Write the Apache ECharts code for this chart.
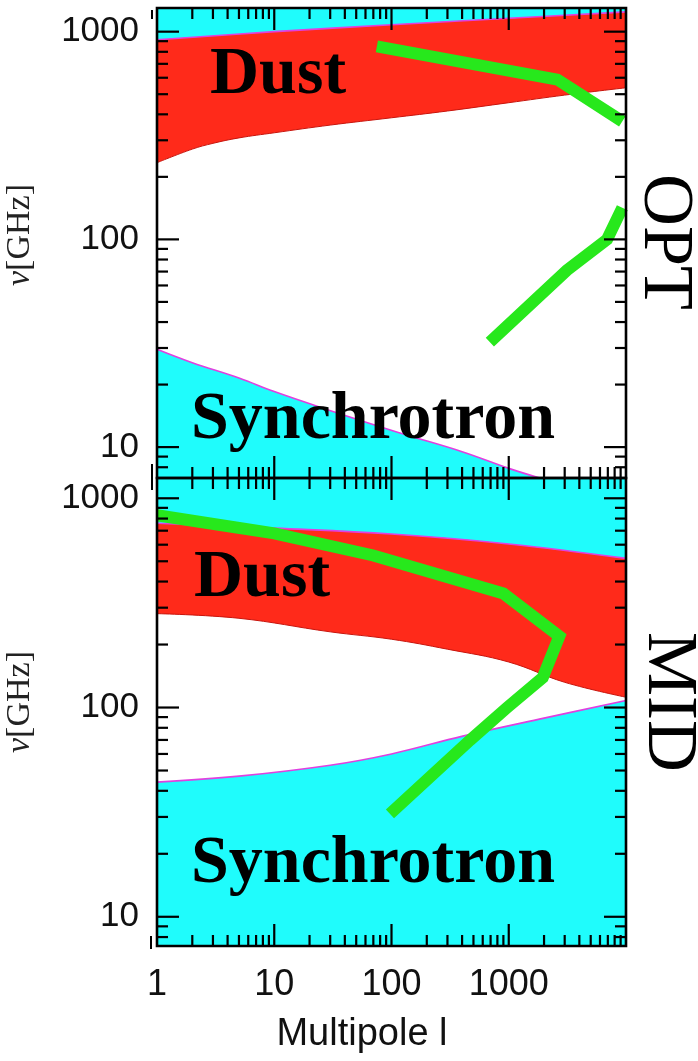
<!DOCTYPE html>
<html>
<head>
<meta charset="utf-8">
<script src="https://cdn.jsdelivr.net/npm/echarts@6/dist/echarts.min.js"></script>
<style>html,body{margin:0;padding:0;background:#fff}#c{width:698px;height:1061px}</style>
</head>
<body>
<div id="c"></div>
<script>
// ---- tick labels ----
const xMajorTicks = [1, 10, 100, 1000, 10000];
const xLabelTicks = [1, 10, 100, 1000];
const yMajorTicks = [10, 100, 1000];
const minorMantissa = [2, 3, 4, 5, 6, 7, 8, 9];

// ---- OPT panel (top) ----
const optDustUpper = [[1, 915], [10, 1000], [100, 1080], [1000, 1160], [10000, 1245]];
const optDustLower = [[1, 234], [2, 272], [3, 290], [5, 308], [10, 326], [30, 355], [100, 385], [300, 415], [1000, 455], [3000, 495], [10000, 537]];
const optSynch = [[1, 29.6], [2, 25.5], [5, 21.5], [10, 18.5], [26, 15.4], [118, 11.7], [400, 9.5], [1000, 7.9], [1840, 7.1]];
const optGreenHigh = [[75, 850], [2600, 588], [9300, 370]];
const optGreenLow = [[690, 32], [3130, 71], [6900, 100], [9300, 142]];

// ---- MID panel (bottom) ----
const midDustUpper = [[1, 760], [10, 720], [100, 675], [1000, 605], [10000, 516]];
const midDustLower = [[1, 281], [5, 267], [30, 230], [100, 212], [300, 190], [1000, 165], [3000, 132], [10000, 112]];
const midSynch = [[1, 44], [5, 47], [30, 53], [100, 60], [405, 73], [2000, 89], [10000, 108]];
const midGreen = [[1, 830], [10, 680], [70, 533], [900, 351], [2700, 219], [1950, 139], [970, 100], [470, 70], [97, 31]];

const RED = '#ff2a1a', CYAN = '#1ffcfc', GREEN = '#27e81c', MAG = '#e040e0';
const SANS = '"Liberation Sans", Arial, sans-serif';
const SERIF = '"Liberation Serif", "Times New Roman", serif';

const yRange = [[7.1, 1300], [7.25, 1250]];

function isPow10(v) { const l = Math.log10(v); return Math.abs(l - Math.round(l)) < 1e-6; }

function area(data, idx, origin, fill, stroke, lw, z) {
  return {
    type: 'line', xAxisIndex: idx, yAxisIndex: idx, data: data, showSymbol: false, smooth: 0.4,
    z: z, silent: true,
    lineStyle: { color: stroke, width: lw },
    areaStyle: { color: fill, opacity: 1, origin: origin }
  };
}
function greenLine(data, idx) {
  return {
    type: 'line', xAxisIndex: idx, yAxisIndex: idx, data: data, showSymbol: false, smooth: false, z: 8, silent: true,
    lineStyle: { color: GREEN, width: 12, cap: 'butt', join: 'miter' }
  };
}
function frame(idx) {
  const yRef = 100;
  return {
    type: 'custom', xAxisIndex: idx, yAxisIndex: idx, data: [[1, yRef]], z: 20, silent: true, clip: false,
    renderItem: function (params, api) {
      const cs = params.coordSys;
      const L = cs.x, T = cs.y, R = cs.x + cs.width, B = cs.y + cs.height;
      const MAJ = 22, MIN = 11;
      const kids = [];
      const ln = (x1, y1, x2, y2, w) => kids.push({ type: 'line', shape: { x1, y1, x2, y2 }, style: { stroke: '#000', lineWidth: w || 2.2 } });
      const xs = [], ys = [];
      xMajorTicks.forEach(v => xs.push([v, MAJ]));
      [1, 10, 100, 1000].forEach(d => minorMantissa.forEach(m => xs.push([m * d, MIN])));
      yMajorTicks.forEach(v => ys.push([v, MAJ]));
      [1, 10, 100].forEach(d => minorMantissa.forEach(m => ys.push([m * d, MIN])));
      const yr = yRange[idx];
      xs.forEach(([v, len]) => {
        const px = api.coord([v, yRef])[0];
        if (px <= L + 1 || px >= R - 1) return;
        ln(px, B, px, B - len); ln(px, T, px, T + len);
      });
      ys.forEach(([v, len]) => {
        if (v < yr[0] || v > yr[1]) return;
        const py = api.coord([1, v])[1];
        ln(L, py, L + len, py); ln(R, py, R - len, py);
      });
      // small outer marks at the left corners
      if (idx === 0) { ln(L - 5, T + 2, L - 5, T + 11, 2); ln(L - 5, B - 14, L - 5, B, 2); }
      else { ln(L - 5, T, L - 5, T + 12, 2); ln(L - 6, B - 10, L - 6, B + 3, 2); }
      kids.push({ type: 'rect', shape: { x: L, y: T, width: R - L, height: B - T }, style: { fill: 'transparent', stroke: '#000', lineWidth: 2.6 } });
      return { type: 'group', children: kids };
    }
  };
}

function xAxis(idx, showLabel) {
  return {
    type: 'log', logBase: 10, gridIndex: idx, min: 1, max: 10000,
    axisLine: { show: false }, axisTick: { show: false }, splitLine: { show: false },
    axisLabel: {
      show: showLabel, margin: 21, fontSize: 36, color: '#111', fontFamily: SANS,
      formatter: v => (isPow10(v) && xLabelTicks.some(t => Math.abs(t - v) / t < 1e-6)) ? String(Math.round(v)) : ''
    }
  };
}
function yAxis(idx) {
  return {
    type: 'log', logBase: 10, gridIndex: idx, min: yRange[idx][0], max: yRange[idx][1],
    axisLine: { show: false }, axisTick: { show: false }, splitLine: { show: false },
    axisLabel: {
      margin: 18, fontSize: 35, color: '#111', fontFamily: SANS, padding: [8, 0, 0, 0],
      formatter: v => (isPow10(v) && yMajorTicks.some(t => Math.abs(t - v) / t < 1e-6)) ? String(Math.round(v)) : ''
    }
  };
}

function txt(text, x, y, opts) {
  const o = Object.assign({ size: 68, weight: 'bold', align: 'left', rot: 0 }, opts || {});
  return {
    type: 'text', z: 30, silent: true, x: x, y: y, rotation: o.rot,
    style: { text: text, x: 0, y: 0, fontSize: o.size, fontWeight: o.weight, fontFamily: SERIF, fill: '#000',
      textAlign: o.align, textVerticalAlign: 'middle' }
  };
}
function nuLabel(y) {
  return {
    type: 'text', z: 30, silent: true, x: 20, y: y, rotation: Math.PI / 2,
    style: { text: '{nu|ν}[GHz]', x: 0, y: 0, fontSize: 34, fontFamily: SERIF, fill: '#222', textAlign: 'center', textVerticalAlign: 'middle',
      rich: { nu: { fontStyle: 'italic', fontSize: 34, fontFamily: SERIF, fill: '#222' } } }
  };
}

const chart = echarts.init(document.getElementById('c'), null, { renderer: 'canvas' });
chart.setOption({
  animation: false,
  backgroundColor: '#fff',
  grid: [
    { left: 157, top: 8, width: 469, height: 470 },
    { left: 157, top: 478, width: 469, height: 468 }
  ],
  xAxis: [xAxis(0, false), xAxis(1, true)],
  yAxis: [yAxis(0), yAxis(1)],
  series: [
    area(optDustLower, 0, 'end', RED, '#c8140c', 1, 2),
    area(optDustUpper, 0, 'end', CYAN, MAG, 1.6, 3),
    area(optSynch, 0, 'start', CYAN, MAG, 1.6, 3),
    greenLine(optGreenHigh, 0),
    greenLine(optGreenLow, 0),
    area(midDustLower, 1, 'end', RED, '#c8140c', 1, 2),
    area(midDustUpper, 1, 'end', CYAN, MAG, 1.6, 3),
    area(midSynch, 1, 'start', CYAN, MAG, 1.6, 3),
    greenLine(midGreen, 1),
    frame(0),
    frame(1)
  ],
  graphic: [
    txt('Dust', 210, 75),
    txt('Synchrotron', 191, 420),
    txt('Dust', 194, 578),
    txt('Synchrotron', 191, 864),
    txt('OPT', 664, 242, { weight: 'normal', size: 72, align: 'center', rot: -Math.PI / 2 }),
    txt('MID', 668, 702, { weight: 'normal', size: 72, align: 'center', rot: -Math.PI / 2 }),
    nuLabel(235),
    nuLabel(702),
    {
      type: 'text', z: 30, silent: true,
      style: { text: 'Multipole l', x: 362, y: 1035, fontSize: 38, fontFamily: SANS, fill: '#111', textAlign: 'center', textVerticalAlign: 'middle' }
    }
  ]
});
</script>
</body>
</html>
